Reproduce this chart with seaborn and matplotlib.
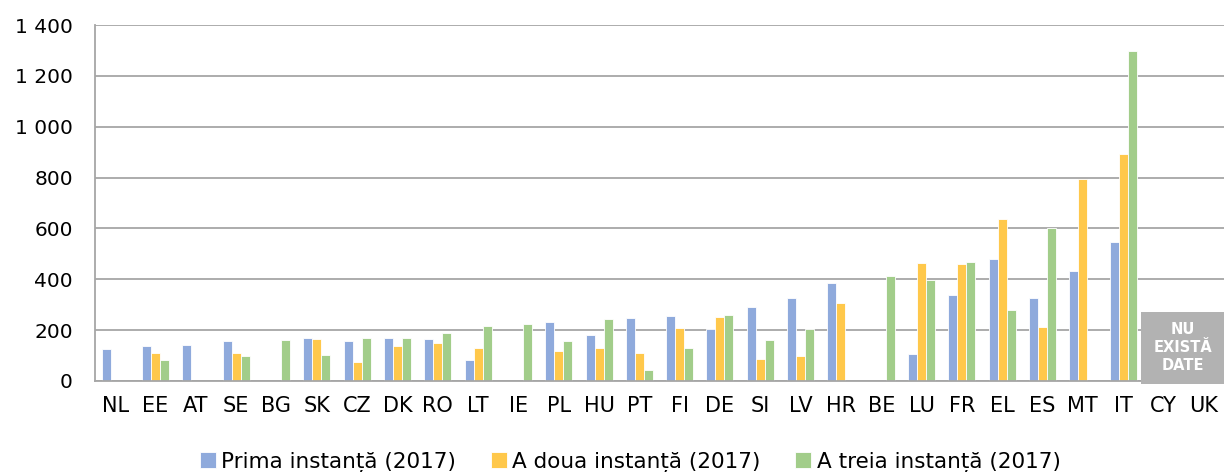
import numpy as np
import pandas as pd
import matplotlib.pyplot as plt
import seaborn as sns
from matplotlib.patches import Rectangle
from matplotlib.ticker import FuncFormatter, FixedLocator

countries = ['NL', 'EE', 'AT', 'SE', 'BG', 'SK', 'CZ', 'DK', 'RO', 'LT', 'IE', 'PL', 'HU', 'PT',
             'FI', 'DE', 'SI', 'LV', 'HR', 'BE', 'LU', 'FR', 'EL', 'ES', 'MT', 'IT', 'CY', 'UK']
prima = [125, 139, 142, 158, np.nan, 170, 157, 170, 166, 84, np.nan, 231, 179, 248,
         256, 204, 291, 327, 385, np.nan, 106, 338, 478, 326, 434, 547, np.nan, np.nan]
a_doua = [np.nan, 110, np.nan, 108, np.nan, 166, 73, 136, 151, 129, np.nan, 118, 131, 110,
          210, 252, 88, 99, 307, np.nan, 464, 461, 637, 214, 794, 893, np.nan, np.nan]
a_treia = [np.nan, 84, np.nan, 99, 160, 103, 170, 169, 190, 216, 225, 158, 243, 44,
           130, 258, 162, 204, np.nan, 413, 398, 468, 277, 603, np.nan, 1299, np.nan, np.nan]
series = ['Prima instanță (2017)', 'A doua instanță (2017)', 'A treia instanță (2017)']
colors = ['#8FAADC', '#FFC84B', '#A2CD8A']

df = pd.concat([
    pd.DataFrame({'tara': countries, 'valoare': vals, 'instanta': name})
    for name, vals in zip(series, [prima, a_doua, a_treia])
])
df = df.dropna()

sns.set_style('white')
plt.rcParams['font.family'] = ['DejaVu Sans']
plt.rcParams['text.color'] = 'black'
plt.rcParams['xtick.color'] = 'black'
plt.rcParams['ytick.color'] = 'black'

fig = plt.figure(figsize=(12.24, 4.72), dpi=100)
ax = fig.add_axes([0.0776, 0.193, 0.9224, 0.754])

sns.barplot(data=df, x='tara', y='valoare', hue='instanta', order=countries,
            hue_order=series, palette=colors, saturation=1, width=0.67, errorbar=None,
            edgecolor='white', linewidth=0.6, ax=ax)

ax.set_xlim(-0.5, len(countries) - 0.5)
ax.set_ylim(0, 1400)
ax.set_yticks(range(0, 1401, 200))
ax.yaxis.set_major_formatter(FuncFormatter(lambda v, p: f'{int(v):,}'.replace(',', ' ')))
ax.yaxis.grid(True, color='#A6A6A6', linewidth=1.3)
ax.set_axisbelow(True)
ax.set_xlabel('')
ax.set_ylabel('')

for s in ['top', 'right']:
    ax.spines[s].set_visible(False)
for s in ['left', 'bottom']:
    ax.spines[s].set_color('#A6A6A6')
    ax.spines[s].set_linewidth(1.3)

ax.tick_params(axis='y', labelsize=14.5, length=8, color='#A6A6A6', labelcolor='black',
               width=1.3, pad=8)
ax.tick_params(axis='x', which='major', labelsize=15, length=0, pad=11, labelcolor='black')
ax.xaxis.set_minor_locator(FixedLocator(np.arange(-0.5, len(countries), 1)))
ax.tick_params(axis='x', which='minor', length=6, color='#A6A6A6', width=1.3)

# caseta "nu exista date" pentru CY si UK
ax.add_patch(Rectangle((25.43, -12), 2.07, 284, facecolor='#B2B2B2', edgecolor='none',
                       clip_on=False, zorder=5))
ax.text(26.47, 130, 'NU\nEXISTĂ\nDATE', color='white', fontsize=10.5, fontweight='bold',
        ha='center', va='center', linespacing=1.25, zorder=6)

ax.legend(loc='center', bbox_to_anchor=(0.474, -0.228), ncol=3, frameon=False,
          handlelength=0.75, handleheight=0.75, handletextpad=0.25,
          columnspacing=1.6, prop={'family': ['DejaVu Sans'], 'size': 15.5})

fig.savefig('out.png', dpi=100)
